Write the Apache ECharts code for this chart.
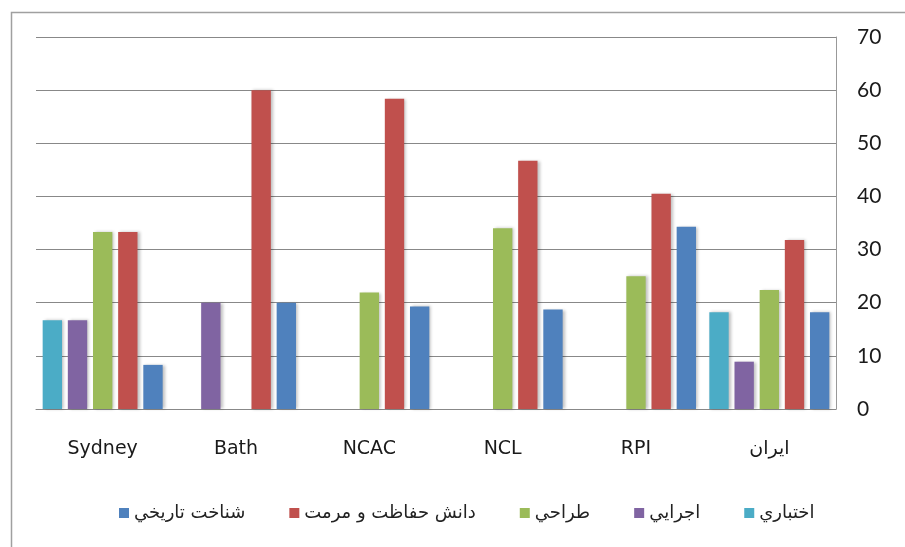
<!DOCTYPE html>
<html>
<head>
<meta charset="utf-8">
<script src="https://cdn.jsdelivr.net/npm/echarts@6/dist/echarts.min.js"></script>
<style>
html,body{margin:0;padding:0;background:#fff;}
#chart{width:905px;height:547px;}
</style>
</head>
<body>
<div id="chart"></div>
<script>
var categories = ['Sydney', 'Bath', 'NCAC', 'NCL', 'RPI', 'ایران'];
var seriesNames = ['اختباري', 'اجرايي', 'طراحي', 'دانش حفاظت و مرمت', 'شناخت تاريخي'];
var ekhtiari = [16.7, 0, 0, 0, 0, 18.2];
var ejraei = [16.7, 20, 0, 0, 0, 8.9];
var tarahi = [33.3, 0, 21.9, 34, 25, 22.4];
var daneshHefazat = [33.3, 60, 58.4, 46.7, 40.5, 31.8];
var shenakhtTarikhi = [8.3, 20, 19.3, 18.7, 34.3, 18.2];
var yTicks = [0, 10, 20, 30, 40, 50, 60, 70];

var colors = ['#4bacc6', '#8064a2', '#9bbb59', '#c0504d', '#4f81bd'];
var dataSets = [ekhtiari, ejraei, tarahi, daneshHefazat, shenakhtTarikhi];

var chart = echarts.init(document.getElementById('chart'), null, {renderer: 'canvas'});
var series = dataSets.map(function (d, i) {
  return {
    name: seriesNames[i],
    type: 'bar',
    data: d,
    barGap: '30%',
    barCategoryGap: '10%',
    itemStyle: {
      color: colors[i],
      shadowColor: 'rgba(0,0,0,0.25)',
      shadowBlur: 3,
      shadowOffsetX: 2,
      shadowOffsetY: 0
    }
  };
});

chart.setOption({
  animation: false,
  backgroundColor: '#ffffff',
  color: colors,
  graphic: [{
    type: 'rect',
    left: 9, top: 10,
    shape: {x: 0, y: 0, width: 1000, height: 1000},
    style: {fill: 'none', stroke: '#a0a0a0', lineWidth: 1.5},
    silent: true
  }],
  grid: {left: 36, right: 69, top: 37, bottom: 138, containLabel: false},
  legend: {
    bottom: 20,
    left: 114,
    itemWidth: 10,
    itemHeight: 10,
    itemGap: 44,
    icon: 'rect',
    data: seriesNames.slice().reverse(),
    textStyle: {fontFamily: 'DejaVu Sans', fontSize: 18, color: '#222'}
  },
  xAxis: {
    type: 'category',
    data: categories,
    axisLine: {show: true, lineStyle: {color: '#888', width: 1}},
    axisTick: {show: false},
    axisLabel: {
      margin: 31,
      fontFamily: 'DejaVu Sans',
      fontSize: 19,
      color: '#1a1a1a'
    }
  },
  yAxis: {
    type: 'value',
    position: 'right',
    min: yTicks[0],
    max: yTicks[yTicks.length - 1],
    interval: 10,
    axisLine: {show: true, lineStyle: {color: '#999', width: 1}},
    axisTick: {show: false},
    splitLine: {lineStyle: {color: '#888', width: 1}},
    axisLabel: {
      margin: 21,
      fontFamily: 'Lato',
      fontSize: 21,
      color: '#1a1a1a'
    }
  },
  series: series
});
</script>
</body>
</html>
